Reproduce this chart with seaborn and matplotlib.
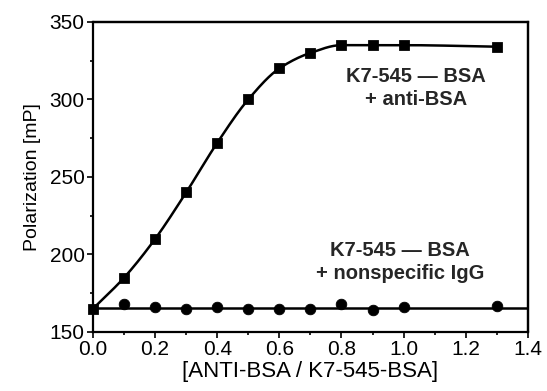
import numpy as np
import pandas as pd
import matplotlib
matplotlib.use("Agg")
import matplotlib.pyplot as plt
import seaborn as sns
from matplotlib.ticker import MultipleLocator

# Data
ratio_anti = [0.0, 0.1, 0.2, 0.3, 0.4, 0.5, 0.6, 0.7, 0.8, 0.9, 1.0, 1.3]
pol_anti = [165, 185, 210, 240, 272, 300, 320, 330, 335, 335, 335, 334]
ratio_igg = [0.1, 0.2, 0.3, 0.4, 0.5, 0.6, 0.7, 0.8, 0.9, 1.0, 1.3]
pol_igg = [168, 166, 165, 166, 165, 165, 165, 168, 164, 166, 167]
xticks = [0.0, 0.2, 0.4, 0.6, 0.8, 1.0, 1.2, 1.4]
yticks = [150, 200, 250, 300, 350]

sns.set_style("ticks")
plt.rcParams['font.family'] = ['Liberation Sans', 'DejaVu Sans']

fig = plt.figure(figsize=(5.47, 3.91), dpi=100)
ax = fig.add_axes([0.170, 0.151, 0.795, 0.793])
ax.set_frame_on(True)

# smooth monotone (PCHIP) curve through the anti-BSA data
def pchip(x, y, xn):
    x = np.asarray(x, float); y = np.asarray(y, float)
    h = np.diff(x); d = np.diff(y) / h
    m = np.zeros_like(y)
    for k in range(1, len(x) - 1):
        if d[k-1] * d[k] > 0:
            w1 = 2*h[k] + h[k-1]; w2 = h[k] + 2*h[k-1]
            m[k] = (w1 + w2) / (w1 / d[k-1] + w2 / d[k])
    m[0] = d[0]; m[-1] = d[-1]
    out = np.empty_like(xn)
    for i, xv in enumerate(xn):
        k = min(np.searchsorted(x, xv, side='right') - 1, len(x) - 2)
        t = (xv - x[k]) / h[k]
        h00 = 2*t**3 - 3*t**2 + 1; h10 = t**3 - 2*t**2 + t
        h01 = -2*t**3 + 3*t**2; h11 = t**3 - t**2
        out[i] = h00*y[k] + h10*h[k]*m[k] + h01*y[k+1] + h11*h[k]*m[k+1]
    return out

xs = np.linspace(0, 1.3, 300)
fit_df = pd.DataFrame({"x": xs, "y": pchip(ratio_anti, pol_anti, xs)})
sns.lineplot(data=fit_df, x="x", y="y", ax=ax, color="black", lw=1.8)

base = float(np.mean([pol_anti[0]] + pol_igg))
ax.axhline(base - 0.3, color="black", lw=1.8)

sns.scatterplot(x=ratio_anti, y=pol_anti, ax=ax, marker="s", s=50, color="black",
                edgecolor="black", zorder=5, clip_on=False)
sns.scatterplot(x=ratio_igg, y=pol_igg, ax=ax, marker="o", s=58, color="black",
                edgecolor="black", zorder=5, clip_on=False)

ax.set_xlim(0, 1.4)
ax.set_ylim(150, 350)
ax.set_xticks(xticks)
ax.set_xticklabels([f"{v:.1f}" for v in xticks])
ax.set_yticks(yticks)
ax.xaxis.set_minor_locator(MultipleLocator(0.1))
ax.yaxis.set_minor_locator(MultipleLocator(25))
ax.tick_params(axis="both", which="major", direction="out", length=4.5, width=1.2,
               labelsize=15, pad=1.5, colors="black")
ax.tick_params(axis="both", which="minor", direction="out", length=2.5, width=1.2,
               colors="black")
for side in ["left", "right", "top", "bottom"]:
    ax.spines[side].set_visible(True)
    ax.spines[side].set_color("black")
    ax.spines[side].set_linewidth(1.6)

# top and right frame edges drawn explicitly along the axis limits
ax.plot([0.0, 1.4, 1.4], [350, 350, 150], color="black", lw=1.6,
        clip_on=False, zorder=10, solid_joinstyle="miter")

ax.set_xlabel("[ANTI-BSA / K7-545-BSA]", fontsize=16, labelpad=1, color="black")
ax.set_ylabel("Polarization [mP]", fontsize=14, labelpad=6, color="black")

ax.text(1.04, 307.5, "K7-545 — BSA\n+ anti-BSA", ha="center", va="center",
        multialignment="center", fontsize=14.5, fontweight="bold", linespacing=1.3)
ax.text(0.988, 195, "K7-545 — BSA\n+ nonspecific IgG", ha="center", va="center",
        multialignment="center", fontsize=14.5, fontweight="bold", linespacing=1.3)

fig.savefig("out.png", dpi=100)
